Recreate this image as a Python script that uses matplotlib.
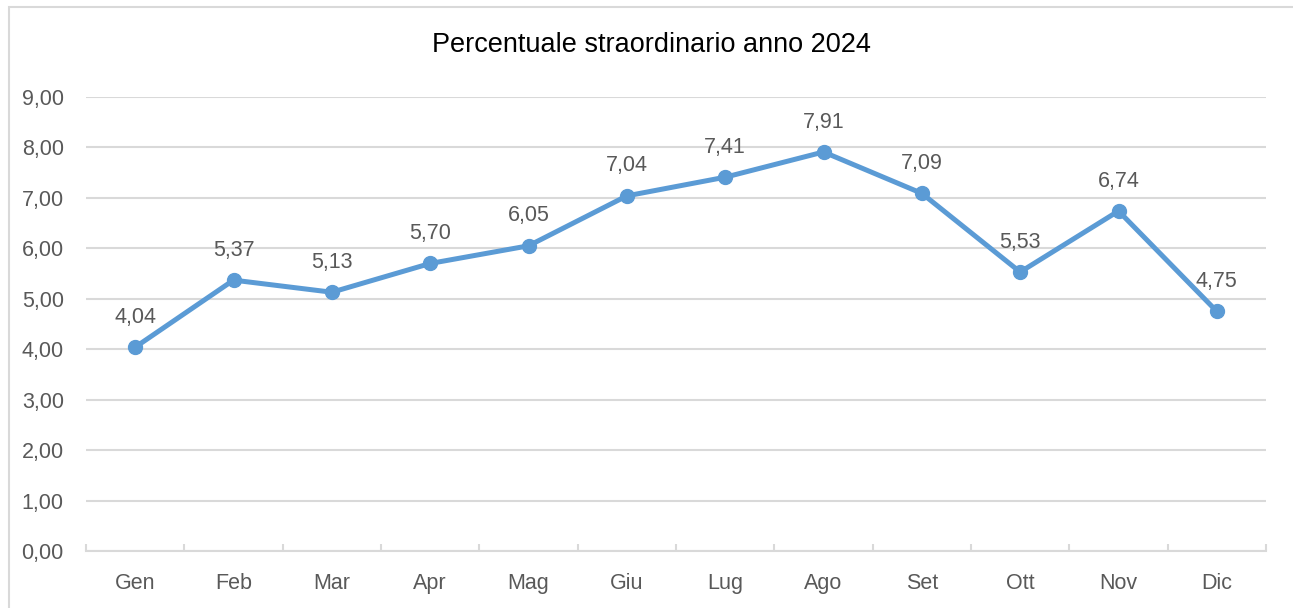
import matplotlib
matplotlib.use("Agg")
import matplotlib.pyplot as plt
from matplotlib.patches import Rectangle
from matplotlib.ticker import FuncFormatter, MultipleLocator

# data
mesi = ["Gen", "Feb", "Mar", "Apr", "Mag", "Giu", "Lug", "Ago", "Set", "Ott", "Nov", "Dic"]
percentuale = [4.04, 5.37, 5.13, 5.70, 6.05, 7.04, 7.41, 7.91, 7.09, 5.53, 6.74, 4.75]
titolo = "Percentuale straordinario anno 2024"

plt.rcParams['font.family'] = ['Liberation Sans Narrow', 'Liberation Sans', 'DejaVu Sans']

line_col = "#5B9BD5"
txt_col = "#595959"
grid_col = "#D9D9D9"

fig = plt.figure(figsize=(12.93, 6.08), dpi=100)
W, H = 1293, 608

# outer chart border (only left and top visible)
fig.patches.append(Rectangle((9 / W, -0.1), 1.2, (608 - 7) / H + 0.1,
                             transform=fig.transFigure, fill=False,
                             edgecolor=grid_col, linewidth=1.5))

ax = fig.add_axes([86 / W, (H - 551) / H, (1266 - 86) / W, (551 - 97) / H])

x = list(range(len(mesi)))
ax.plot(x, percentuale, color=line_col, linewidth=3.6, marker="o",
        markersize=10, solid_capstyle="round", zorder=3)

for xi, v in zip(x, percentuale):
    ax.annotate(f"{v:.2f}".replace(".", ","), (xi, v), xytext=(0, 14),
                textcoords="offset points", ha="center", va="bottom",
                fontsize=15.5, color=txt_col)

ax.set_xlim(-0.5, len(mesi) - 0.5)
ax.set_ylim(0, 9)
ax.yaxis.set_major_locator(MultipleLocator(1))
ax.yaxis.set_major_formatter(FuncFormatter(lambda v, p: f"{v:.2f}".replace(".", ",")))
ax.grid(axis="y", color=grid_col, linewidth=1.5)
ax.set_axisbelow(True)

ax.set_xticks(x)
ax.set_xticklabels(mesi)
ax.set_xticks([i - 0.5 for i in range(len(mesi) + 1)], minor=True)
ax.tick_params(axis="x", which="major", length=0, pad=16, labelsize=15.5, labelcolor=txt_col)
ax.tick_params(axis="x", which="minor", direction="in", length=5, width=1.5, color=grid_col)
ax.tick_params(axis="y", length=0, pad=16, labelsize=15.5, labelcolor=txt_col)

for s in ["top", "right", "left"]:
    ax.spines[s].set_visible(False)
ax.spines["bottom"].set_color(grid_col)
ax.spines["bottom"].set_linewidth(1.5)

fig.text(651 / W, (H - 45) / H, titolo, ha="center", va="center",
         fontsize=19.5, color="black")

fig.savefig("out.png", dpi=100)
